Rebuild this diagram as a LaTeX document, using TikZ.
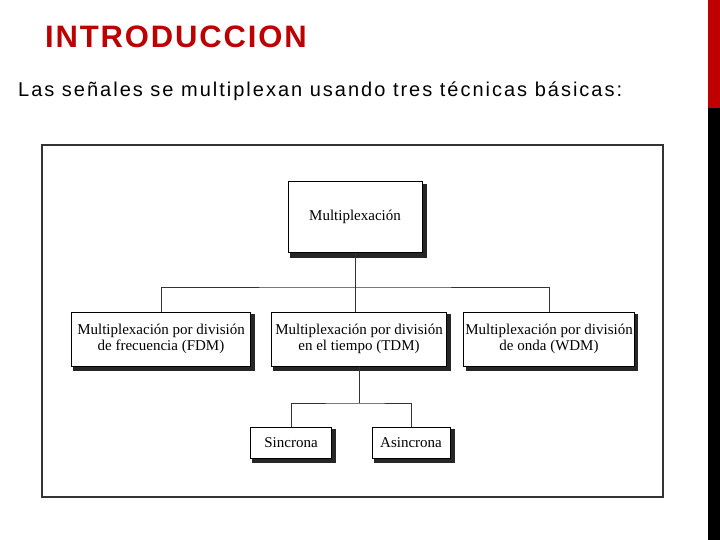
\documentclass[tikz,border=0pt]{standalone}
\usepackage{fontspec}
\setmainfont{Liberation Sans}
\newfontfamily\scan{Liberation Serif}
\newfontfamily\spaced[LetterSpace=10]{Liberation Sans}
\newfontfamily\tspaced[LetterSpace=6]{Liberation Sans}
\begin{document}
\begin{tikzpicture}[x=1pt,y=-1pt,
  bx/.style={draw=black,line width=1pt,fill=white,align=center,font=\scan\fontsize{15}{16}\selectfont,inner sep=2pt},
  ln/.style={draw=black!80,line width=0.8pt}]
\useasboundingbox (0,0) rectangle (720,540);
\fill[white] (0,0) rectangle (720,540);
\fill[black] (708,108) rectangle (720,540);
\fill[red!75!black] (708,0) rectangle (720,108);
\node[anchor=west,font=\tspaced\bfseries\fontsize{31}{32}\selectfont,text=red!75!black,inner sep=0pt] (t) at (45,37) {INTRODUCCION};
\node[anchor=west,font=\spaced\fontsize{20}{22}\selectfont,inner sep=0pt] (s) at (18,91) {Las señales se multiplexan usando tres técnicas básicas:};
\draw[black!80,line width=1.2pt] (42,145) rectangle (663,497);
\foreach \a/\b/\c/\d in {287/181/424/255, 70/311/252/368, 270/311/448/368, 463/311/635/368, 249/426/333/460, 371/426/452/460}
  \fill[black!85] (\a+3,\b+3) rectangle (\c+3,\d+3);
\node[bx,minimum width=134pt,minimum height=71pt] (m) at (355,217) {Multiplexación};
\node[bx,minimum width=179pt,minimum height=54pt] (f) at (161,339) {Multiplexación por división\\de frecuencia (FDM)};
\node[bx,minimum width=175pt,minimum height=54pt] (d) at (359,339) {Multiplexación por división\\en el tiempo (TDM)};
\node[bx,minimum width=169pt,minimum height=54pt] (w) at (549,339) {Multiplexación por división\\de onda (WDM)};
\node[bx,minimum width=81pt,minimum height=31pt] (sc) at (291,443) {Sincrona};
\node[bx,minimum width=78pt,minimum height=31pt] (as) at (411,443) {Asincrona};
\coordinate (j1) at (355,287);
\coordinate (j2) at (359,403);
\draw[ln] (m.south) -- (j1);
\draw[ln] (f.north) |- (j1) -| (w.north);
\draw[ln] (j1) -- (d.north -| j1);
\draw[ln] (d.south) -- (j2);
\draw[ln] (sc.north) |- (j2) -| (as.north);
\end{tikzpicture}
\end{document}
